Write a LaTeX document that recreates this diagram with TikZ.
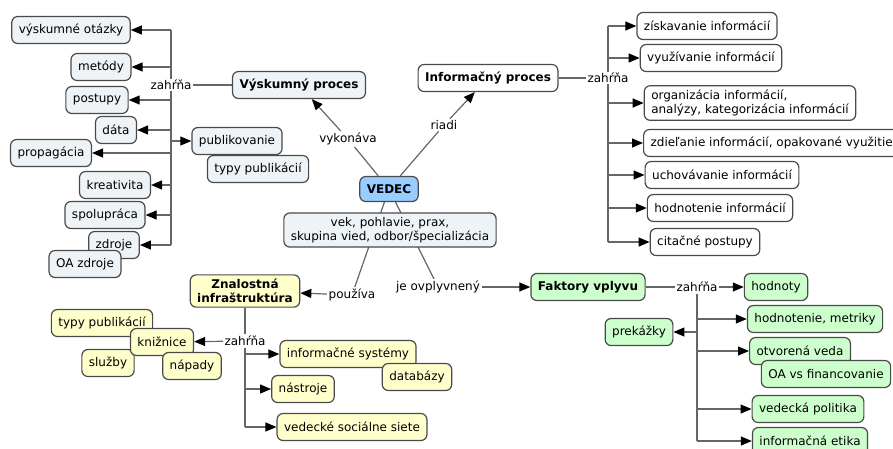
\documentclass[tikz,border=0pt]{standalone}
\usepackage{fontspec}
\setmainfont{DejaVu Sans}
\usepackage{tikz}
\usetikzlibrary{arrows.meta, backgrounds}
\definecolor{okraj}{HTML}{4A4A4A}
\definecolor{ciara}{HTML}{666666}
\definecolor{modra}{HTML}{EDF3F6}
\definecolor{vedecmodra}{HTML}{99CCFF}
\definecolor{zlta}{HTML}{FFFFCC}
\definecolor{zelena}{HTML}{CCFFCC}
\tikzstyle{pojem} = [rectangle, rounded corners=6pt, minimum height=27pt, inner xsep=7pt, inner ysep=4pt, align=center, draw=okraj, line width=1.2pt, font=\fontsize{12}{14.5}\selectfont]
\tikzstyle{vyskum} = [pojem, fill=modra]
\tikzstyle{info} = [pojem, fill=white]
\tikzstyle{znalost} = [pojem, fill=zlta]
\tikzstyle{faktor} = [pojem, fill=zelena]
\tikzstyle{hlavny} = [font=\fontsize{12}{14.5}\selectfont\bfseries]
\tikzstyle{fraza} = [fill=white, inner sep=1.5pt, font=\fontsize{12}{14.5}\selectfont]
\tikzstyle{spoj} = [draw=ciara, line width=1.2pt]
\tikzstyle{arrow} = [spoj, -{Triangle[length=11pt, width=9pt, color=black]}]

\begin{document}
\begin{tikzpicture}[x=1pt, y=-1pt]
	\useasboundingbox (0,0) rectangle (893,448);

	\node (vedec) [pojem, hlavny, fill=vedecmodra, minimum height=25pt] at (389,189) {VEDEC};
	\node (atributy) [vyskum] at (390,230) {vek, pohlavie, prax,\\skupina vied, odbor/špecializácia};

	\node (vyskumny) [vyskum, hlavny] at (299,85) {Výskumný proces};
	\node (infoproc) [info, hlavny] at (488,78) {Informačný proces};
	\node (znal) [znalost, hlavny] at (245,291) {Znalostná\\infraštruktúra};
	\node (faktory) [faktor, hlavny] at (588,287) {Faktory vplyvu};

	\node (vykonava) [fraza] at (348,139) {vykonáva};
	\node (riadi) [fraza] at (444,125) {riadi};
	\node (pouziva) [fraza] at (352,295) {používa};
	\node (ovplyvneny) [fraza] at (438,287) {je ovplyvnený};
	\node (zah1) [fraza] at (171,85) {zahŕňa};
	\node (zah2) [fraza] at (608,78) {zahŕňa};
	\node (zah3) [fraza] at (245,341) {zahŕňa};
	\node (zah4) [fraza] at (697,287) {zahŕňa};

	\node (otazky) [vyskum] at (71,30) {výskumné otázky};
	\node (metody) [vyskum] at (101,67) {metódy};
	\node (postupy) [vyskum] at (97,100) {postupy};
	\node (data) [vyskum] at (116,130) {dáta};
	\node (propagacia) [vyskum] at (51,153) {propagácia};
	\node (kreativita) [vyskum] at (115,185) {kreativita};
	\node (spolupraca) [vyskum] at (105,215) {spolupráca};
	\node (zdroje) [vyskum] at (114,245) {zdroje};
	\node (oazdroje) [vyskum] at (85,264) {OA zdroje};
	\node (publikovanie) [vyskum] at (237,141) {publikovanie};
	\node (typy) [vyskum] at (258,169) {typy publikácií};

	\node (ziskavanie) [info] at (707,26) {získavanie informácií};
	\node (vyuzivanie) [info] at (711,58) {využívanie informácií};
	\node (organizacia) [info, align=left] at (750,103) {organizácia informácií,\\analýzy, kategorizácia informácií};
	\node (zdielanie) [info, anchor=west] at (643,143) {zdieľanie informácií, opakované využitie};
	\node (uchovavanie) [info] at (722,175) {uchovávanie informácií};
	\node (hodnotenie) [info] at (720,208) {hodnotenie informácií};
	\node (citacne) [info] at (705,242) {citačné postupy};

	\node (typy2) [znalost] at (102,323) {typy publikácií};
	\node (sluzby) [znalost] at (108,363) {služby};
	\node (kniznice) [znalost] at (162,342) {knižnice};
	\node (napady) [znalost] at (192,366) {nápady};
	\node (infsys) [znalost] at (348,354) {informačné systémy};
	\node (databazy) [znalost] at (417,377) {databázy};
	\node (nastroje) [znalost] at (303,389) {nástroje};
	\node (siete) [znalost] at (352,427) {vedecké sociálne siete};

	\node (hodnoty) [faktor] at (776,287) {hodnoty};
	\node (metriky) [faktor] at (815,319) {hodnotenie, metriky};
	\node (prekazky) [faktor] at (639,332) {prekážky};
	\node (otvorena) [faktor] at (800,351) {otvorená veda};
	\node (oavs) [faktor] at (826,374) {OA vs financovanie};
	\node (politika) [faktor] at (808,409) {vedecká politika};
	\node (etika) [faktor] at (810,441) {informačná etika};

	\begin{scope}[on background layer]
	\draw [spoj] (vedec) -- (vykonava);
	\draw [arrow] (vykonava) -- (vyskumny);
	\draw [spoj] (vedec) -- (riadi);
	\draw [arrow] (riadi) -- (infoproc);
	\draw [spoj] (vedec) -- (pouziva);
	\draw [arrow] (pouziva) -- (znal);
	\draw [spoj] (vedec) -- (ovplyvneny);
	\draw [arrow] (ovplyvneny) -- (faktory);

	\draw [spoj] (vyskumny) -- (zah1);
	\draw [spoj] (zah1 |- otazky) -- (zah1 |- zdroje);
	\foreach \n in {otazky, metody, postupy, data, propagacia, kreativita, spolupraca, zdroje, publikovanie}
		\draw [arrow] (zah1 |- \n) -- (\n);

	\draw [spoj] (infoproc) -- (zah2);
	\draw [spoj] (zah2 |- ziskavanie) -- (zah2 |- citacne);
	\foreach \n in {ziskavanie, vyuzivanie, organizacia, zdielanie, uchovavanie, hodnotenie, citacne}
		\draw [arrow] (zah2 |- \n) -- (\n);

	\draw [spoj] (znal) -- (zah3);
	\draw [arrow] (zah3) -- (kniznice);
	\draw [spoj] (zah3.south) -- (zah3 |- siete);
	\foreach \n in {infsys, nastroje, siete}
		\draw [arrow] (zah3 |- \n) -- (\n);

	\draw [spoj] (faktory) -- (zah4);
	\draw [arrow] (zah4) -- (hodnoty);
	\draw [spoj] (zah4.south) -- (zah4 |- etika);
	\foreach \n in {metriky, prekazky, otvorena, politika, etika}
		\draw [arrow] (zah4 |- \n) -- (\n);
	\end{scope}
\end{tikzpicture}
\end{document}
